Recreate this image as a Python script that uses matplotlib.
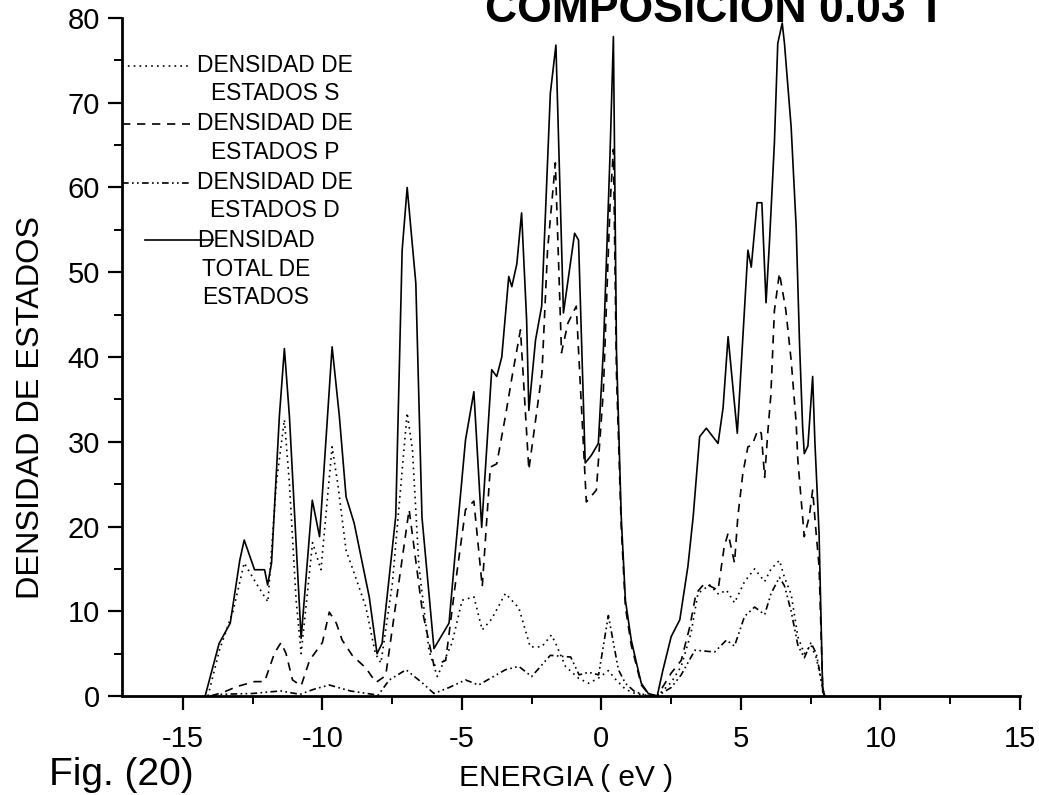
import matplotlib
matplotlib.use("Agg")
import matplotlib.pyplot as plt
from matplotlib.ticker import MultipleLocator
from matplotlib.lines import Line2D
from matplotlib.legend_handler import HandlerLine2D

plt.rcParams['font.family'] = ['Liberation Sans', 'DejaVu Sans']
plt.rcParams['axes.unicode_minus'] = False

# ---------------- data ----------------
e_total = [-14.2, -13.7, -13.3, -12.96, -12.8, -12.43, -12.07, -11.96, -11.82, -11.54,
           -11.36, -11.18, -10.76, -10.36, -10.1, -9.65, -9.39, -9.15, -8.86, -8.32,
           -8.04, -7.86, -7.37, -7.14, -6.96, -6.65, -6.43, -6.0, -5.46, -5.23,
           -4.87, -4.57, -4.29, -3.93, -3.75, -3.57, -3.32, -3.21, -3.03, -2.86,
           -2.68, -2.6, -2.36, -2.14, -1.83, -1.63, -1.36, -0.96, -0.82, -0.58,
           -0.36, -0.11, 0.07, 0.31, 0.43, 0.54, 0.71, 0.86, 1.07, 1.25,
           1.43, 1.68, 2.0, 2.2, 2.5, 2.81, 3.1, 3.29, 3.52, 3.76,
           4.18, 4.36, 4.54, 4.87, 5.25, 5.37, 5.58, 5.75, 5.9, 6.02,
           6.2, 6.32, 6.48, 6.56, 6.8, 6.98, 7.1, 7.21, 7.27, 7.4,
           7.57, 7.65, 7.8, 7.93, 8.0]
dos_total = [0, 6.2, 8.6, 16, 18.4, 14.9, 14.9, 13.1, 15.7, 33,
             41, 33, 6.8, 23.1, 18.8, 41.2, 33, 23.5, 20.4, 11.7,
             5.0, 6.2, 21.2, 52.6, 60, 48.7, 21.1, 5.6, 8.6, 17.2,
             30.2, 35.9, 19.9, 38.5, 37.7, 40, 49.5, 48.3, 51, 57,
             44.4, 33.7, 42, 46, 71.1, 76.8, 45.2, 54.6, 53.8, 27.5,
             28.4, 29.8, 40.8, 64, 77.8, 40.8, 21.2, 11.3, 6.6, 4.0,
             1.5, 0.3, 0, 3, 7, 9, 15.3, 21.2, 30.6, 31.6,
             29.8, 34, 42.4, 31, 52.6, 50.6, 58.2, 58.2, 46.4, 53.4,
             65.3, 77, 79.4, 77, 67.1, 55.3, 41.6, 31.8, 28.6, 29.5,
             37.7, 30, 19.2, 0.5, 0]

e_s = [-14.1, -13.68, -13.2, -12.8, -12.37, -11.95, -11.65, -11.36, -11.18, -10.94,
       -10.76, -10.35, -10.05, -9.65, -9.45, -9.15, -8.86, -8.44, -8.1, -7.9,
       -7.49, -7.13, -6.96, -6.77, -6.54, -6.18, -5.88, -5.35, -4.99, -4.57,
       -4.27, -3.93, -3.44, -2.96, -2.55, -2.14, -1.79, -1.61, -1.29, -0.82,
       -0.46, -0.11, 0.25, 0.5, 0.86, 1.2, 1.6, 2.0, 2.5, 2.86,
       3.21, 3.46, 3.88, 4.2, 4.48, 4.77, 5.13, 5.49, 5.85, 6.08,
       6.38, 6.56, 6.8, 7.04, 7.27, 7.51, 7.7, 7.93, 8.0]
dos_s = [0, 5.5, 10, 15.7, 13.3, 11.1, 25.1, 32.6, 25.1, 11.3,
         5.0, 18.1, 14.9, 29.4, 25.1, 17.2, 14.5, 10.5, 5.0, 3.9,
         13.3, 27, 33.4, 29, 15.3, 5.4, 2.3, 6.3, 11.3, 11.7,
         7.8, 9.1, 12.1, 10.4, 5.8, 5.8, 7.2, 6.0, 3.5, 2.1,
         1.5, 2.1, 3.0, 2.0, 0.8, 0.3, 0.1, 0, 1.6, 3.5,
         7.4, 12.1, 13.1, 12, 12.5, 11, 13.5, 15, 13.5, 15,
         16, 14, 12, 7, 5, 6, 4.5, 1, 0]

e_p = [-14.0, -13.5, -13.08, -12.43, -12.07, -11.71, -11.48, -11.3, -11.07, -10.76,
       -10.46, -10.0, -9.75, -9.5, -9.29, -8.93, -8.44, -8.08, -7.73, -7.43,
       -6.89, -6.42, -6.0, -5.58, -5.23, -4.87, -4.57, -4.27, -3.98, -3.75,
       -3.44, -3.2, -2.9, -2.6, -2.13, -1.93, -1.65, -1.43, -1.2, -0.9,
       -0.54, -0.18, 0.07, 0.31, 0.43, 0.54, 0.71, 0.86, 1.07, 1.43,
       1.7, 2.0, 2.5, 2.86, 3.17, 3.39, 3.7, 4.18, 4.4, 4.54,
       4.77, 4.89, 5.07, 5.25, 5.4, 5.61, 5.73, 5.85, 5.96, 6.07,
       6.2, 6.38, 6.61, 6.8, 6.98, 7.04, 7.27, 7.45, 7.57, 7.68,
       7.8, 7.93, 8.0]
dos_p = [0, 0.5, 1.1, 1.7, 1.7, 5.1, 6.3, 5.0, 1.9, 1.2,
         4.2, 6.3, 9.9, 8.6, 6.6, 4.8, 3.3, 1.6, 2.4, 9.4,
         22, 10.1, 3.6, 4.2, 13.3, 22, 23, 12.9, 27, 27.4,
         33, 37.7, 43.2, 26.7, 38.1, 52.6, 62.9, 40.5, 44, 46,
         22.9, 24.3, 36, 58, 64.5, 38, 20, 10.5, 6, 1.3,
         0.2, 0, 2.7, 4.2, 8.2, 12.1, 13.3, 12.5, 17.6, 19.2,
         15.7, 21.2, 26.3, 29.4, 29.6, 31.4, 31, 25.8, 31, 35.4,
         45.5, 49.9, 45.5, 39.6, 32.2, 27.8, 18.8, 21.2, 24.3, 19.8,
         15.3, 1, 0]

e_d = [-14.0, -13.7, -12.5, -11.5, -10.8, -10.3, -9.75, -9.0, -8.0, -7.6,
       -7.0, -6.4, -6.0, -5.46, -4.87, -4.4, -3.44, -2.96, -2.5, -1.83,
       -1.1, -0.8, -0.46, -0.1, 0.25, 0.61, 0.86, 1.2, 1.6, 2.0,
       2.5, 2.86, 3.35, 4.06, 4.48, 4.77, 5.13, 5.49, 5.85, 6.08,
       6.38, 6.56, 6.8, 7.04, 7.27, 7.51, 7.7, 7.93, 8.0]
dos_d = [0, 0.2, 0.3, 0.6, 0.2, 0.8, 1.3, 0.6, 0.1, 1.9,
         3.1, 1.5, 0.3, 1.0, 1.9, 1.3, 3.1, 3.5, 2.3, 4.8,
         4.6, 2.5, 2.8, 2.5, 9.5, 3.1, 1.5, 0.5, 0.1, 0,
         1.0, 2.5, 5.4, 5.2, 6.6, 5.9, 9.4, 10.5, 9.6, 12.1,
         14, 13, 10, 6, 4.5, 6.3, 5, 1, 0]

labels = ["DENSIDAD DE\nESTADOS S", "DENSIDAD DE\nESTADOS P",
          "DENSIDAD DE\nESTADOS D", "DENSIDAD\nTOTAL DE\nESTADOS"]
x_ticks = [-15, -10, -5, 0, 5, 10, 15]
y_ticks = [0, 10, 20, 30, 40, 50, 60, 70, 80]

# ---------------- figure ----------------
fig = plt.figure(figsize=(10.39, 7.95), dpi=100)
ax = fig.add_axes([0.1174, 0.1245, 0.8643, 0.8529])

lw = 1.2
st_s = (0, (1.0, 2.5))
st_p = (0, (5, 4))
st_d = (0, (4, 2, 1, 2, 1, 2))

ax.plot(e_s, dos_s, color='black', lw=lw, ls=st_s)
ax.plot(e_p, dos_p, color='black', lw=lw, ls=st_p)
ax.plot(e_d, dos_d, color='black', lw=lw, ls=st_d)
ax.plot(e_total, dos_total, color='black', lw=lw, ls='-')

ax.set_xlim(-17.18, 15)
ax.set_ylim(0, 80)
ax.set_xticks(x_ticks)
ax.set_yticks(y_ticks)
ax.xaxis.set_minor_locator(MultipleLocator(2.5))
ax.yaxis.set_minor_locator(MultipleLocator(5))
ax.tick_params(which='major', direction='out', length=10, width=1.6, labelsize=21,
               color='black')
ax.tick_params(axis='x', which='major', pad=11)
ax.tick_params(axis='y', which='major', pad=6)
ax.tick_params(which='minor', direction='out', length=6, width=1.4)
for side in ('top', 'right'):
    ax.spines[side].set_visible(False)
for side in ('left', 'bottom'):
    ax.spines[side].set_linewidth(2.0)

ax.set_xlabel("ENERGIA ( eV )", fontsize=21.5)
ax.xaxis.set_label_coords(0.494, -0.100)
ax.set_ylabel("DENSIDAD DE ESTADOS", fontsize=23.4)
ax.yaxis.set_label_coords(-0.085, 0.425)

LEG_FS = 16.4
LEG_LS = 1.31


class FirstLineHandler(HandlerLine2D):
    """Puts the legend line next to the first line of a multi-line label."""

    def __init__(self, nlines, xshift=0.0, **kw):
        super().__init__(**kw)
        self.nlines = nlines
        self.xshift = xshift

    def create_artists(self, legend, orig_handle, xdescent, ydescent,
                       width, height, fontsize, trans):
        arts = super().create_artists(legend, orig_handle, xdescent, ydescent,
                                      width, height, fontsize, trans)
        shift = (self.nlines - 1) / 2.0 * LEG_LS * fontsize
        for a in arts:
            a.set_ydata([y + shift for y in a.get_ydata()])
            a.set_xdata([x + self.xshift * fontsize for x in a.get_xdata()])
        return arts


handles = [Line2D([], [], color='black', lw=lw, ls=st_s),
           Line2D([], [], color='black', lw=lw, ls=st_p),
           Line2D([], [], color='black', lw=lw, ls=st_d),
           Line2D([], [], color='black', lw=lw, ls='-')]
x_shifts = [0.0, 0.0, 0.0, 1.0]
hmap = {h: FirstLineHandler(lab.count("\n") + 1, xs)
        for h, lab, xs in zip(handles, labels, x_shifts)}
leg = ax.legend(handles, labels, loc='upper left', bbox_to_anchor=(0.0, 0.947),
                frameon=False, fontsize=LEG_FS, handlelength=3.0, handletextpad=0.3,
                labelspacing=0.3, borderaxespad=0.0, borderpad=0.0, handler_map=hmap)
for t in leg.get_texts():
    t.set_multialignment('center')
    t.set_linespacing(LEG_LS)

fig.text(0.047, 0.0126, "Fig. (20)", fontsize=28, ha='left', va='baseline')
fig.text(0.688, 0.9723, "COMPOSICION 0.03 T", fontsize=32, fontweight='bold',
         ha='center', va='baseline')

fig.savefig("out.png", dpi=100)
